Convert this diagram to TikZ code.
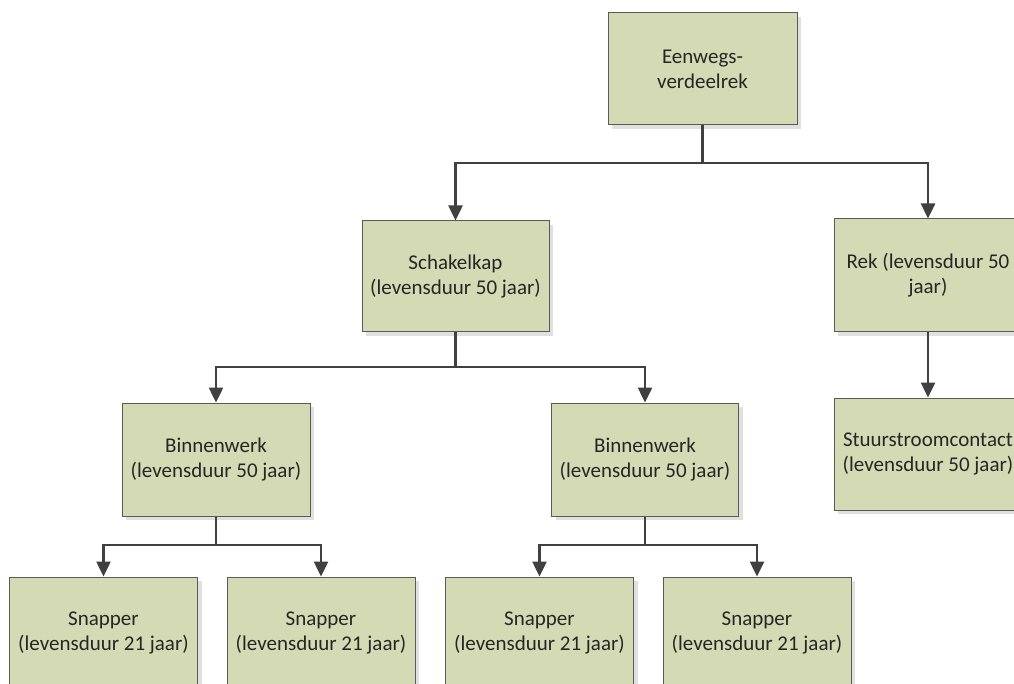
\documentclass[tikz,border=0pt]{standalone}
\usepackage{fontspec}
\setmainfont{Carlito}
\usetikzlibrary{arrows.meta,shadows}
\definecolor{boxfill}{RGB}{211,218,180}
\definecolor{boxline}{RGB}{90,90,90}
\definecolor{conn}{RGB}{64,64,64}
\tikzset{
  box/.style={draw=boxline, line width=1pt, fill=boxfill, inner sep=0pt,
    minimum width=188pt, minimum height=112pt, align=center,
    font=\fontsize{21}{25}\selectfont, text=black!85,
    drop shadow={shadow xshift=4pt, shadow yshift=-4pt, fill=black!12, opacity=1}},
  conn/.style={draw=conn, line width=2.5pt,
    -{Triangle[length=15pt,width=14pt]}}
}
\begin{document}
\begin{tikzpicture}[x=1pt,y=-1pt]
\useasboundingbox (0,0) rectangle (1014,684);
\clip (0,0) rectangle (1014,684);
\fill[white] (0,0) rectangle (1014,684);
\node[box, minimum width=189pt] (top) at (702.5,69) {Eenwegs-\\verdeelrek};
\node[box, minimum width=187pt, minimum height=111pt] (schak) at (455.5,276.5) {Schakelkap\\(levensduur 50 jaar)};
\node[box, minimum height=113pt] (rek) at (928,275.5) {Rek (levensduur 50\\jaar)};
\node[box] (stuur) at (928,454) {Stuurstroomcontact\\(levensduur 50 jaar)};
\node[box, minimum height=113pt] (bin1) at (216,459.5) {Binnenwerk\\(levensduur 50 jaar)};
\node[box, minimum width=187pt, minimum height=113pt] (bin2) at (645,459.5) {Binnenwerk\\(levensduur 50 jaar)};
\node[box] (snap1) at (103.5,633) {Snapper\\(levensduur 21 jaar)};
\node[box] (snap2) at (321,633) {Snapper\\(levensduur 21 jaar)};
\node[box] (snap3) at (539.5,633) {Snapper\\(levensduur 21 jaar)};
\node[box] (snap4) at (757,633) {Snapper\\(levensduur 21 jaar)};
\coordinate (j0) at (702.5,163);
\coordinate (j1) at (455.5,367);
\coordinate (j2) at (216,545);
\coordinate (j3) at (645,545);
\draw[draw=conn, line width=2.5pt] (top.south) -- (j0);
\draw[conn] (j0) -| (schak.north);
\draw[conn] (j0) -| (rek.north);
\draw[conn] (rek.south) -- (stuur.north);
\draw[draw=conn, line width=2.5pt] (schak.south) -- (j1);
\draw[conn] (j1) -| (bin1.north);
\draw[conn] (j1) -| (bin2.north);
\draw[draw=conn, line width=2.5pt] (bin1.south) -- (j2);
\draw[conn] (j2) -| (snap1.north);
\draw[conn] (j2) -| (snap2.north);
\draw[draw=conn, line width=2.5pt] (bin2.south) -- (j3);
\draw[conn] (j3) -| (snap3.north);
\draw[conn] (j3) -| (snap4.north);
\end{tikzpicture}
\end{document}
